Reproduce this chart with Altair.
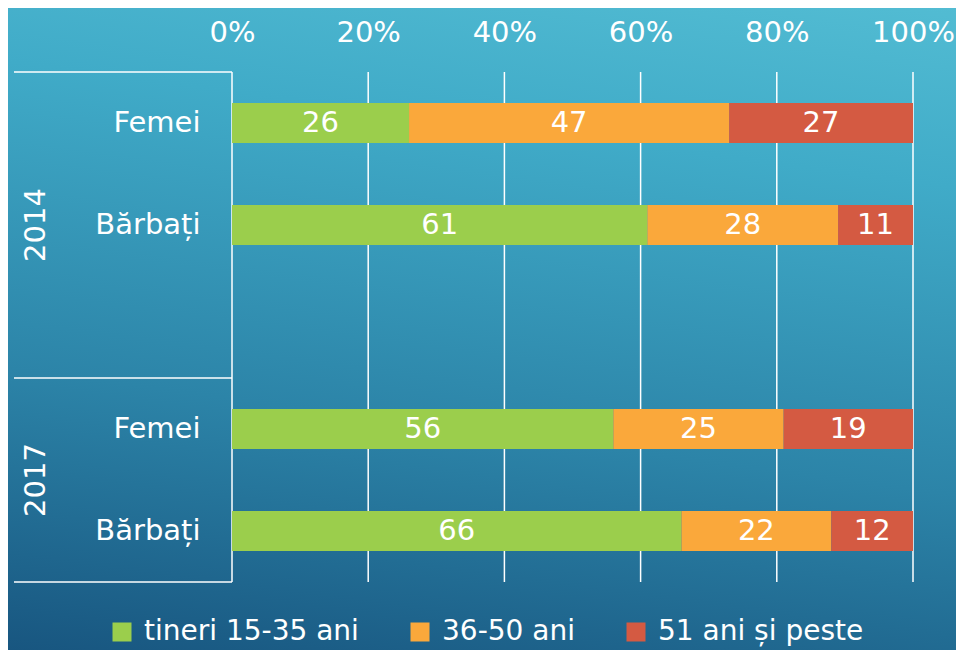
import altair as alt
import pandas as pd

# ---- data ----
years = ["2014", "2014", "2017", "2017"]
sexes = ["Femei", "Bărbați", "Femei", "Bărbați"]
tineri = [26, 61, 56, 66]
adulti = [47, 28, 25, 22]
varstnici = [27, 11, 19, 12]
groups = ["tineri 15-35 ani", "36-50 ani", "51 ani și peste"]
group_colors = ["#9BCE4C", "#FAA83B", "#D45A42"]
tick_values = [0, 20, 40, 60, 80, 100]

FONT = "DejaVu Sans"
W, H = 681, 510
PAD = {"left": 224, "top": 64, "right": 43, "bottom": 68}

row_keys = [f"{y}|{s}" for y, s in zip(years, sexes)]
row_domain = [row_keys[0], row_keys[1], "2014|", row_keys[2], row_keys[3]]

records = []
for i, key in enumerate(row_keys):
    for j, (g, vals) in enumerate(zip(groups, [tineri, adulti, varstnici])):
        records.append({"row": key, "group": g, "value": vals[i], "idx": j})
df = pd.DataFrame(records)

y_scale = alt.Scale(domain=row_domain, paddingInner=0, paddingOuter=0)
x_scale = alt.Scale(domain=[0, 100], nice=False)

x_axis = alt.Axis(orient="top", values=tick_values, labelExpr="datum.value + '%'",
                  grid=False, domain=False, ticks=False, tickSize=0, labelPadding=25,
                  labelFont=FONT, labelFontSize=29, labelColor="white", title=None,
                  zindex=1, labelFlush=False)
y_axis = alt.Axis(labelExpr="split(datum.label, '|')[1]", grid=False, domain=False,
                  ticks=False, tickSize=0, labelPadding=32, labelFont=FONT,
                  labelFontSize=29, labelColor="white", title=None, zindex=1)

bg = alt.Chart(alt.Data(values=[{}])).mark_rect(
    fill=alt.LinearGradient(
        gradient="linear",
        stops=[alt.GradientStop(color="#185680", offset=0),
               alt.GradientStop(color="#2c84a8", offset=0.32),
               alt.GradientStop(color="#40abc8", offset=0.67),
               alt.GradientStop(color="#5dc6d9", offset=1)],
        x1=0, y1=1, x2=0.259, y2=-0.318),
    strokeWidth=0,
).encode(x=alt.value(-PAD["left"]), x2=alt.value(W + PAD["right"]),
         y=alt.value(-PAD["top"]), y2=alt.value(H + PAD["bottom"]))

grid = alt.Chart(pd.DataFrame({"v": tick_values})).mark_rule(
    color="white", strokeWidth=1.5).encode(x=alt.X("v:Q", scale=x_scale, axis=x_axis))

sep_top = alt.Chart(pd.DataFrame({"row": [row_keys[0], row_keys[2]]})).mark_rule(
    color="white", strokeWidth=1.5).encode(
    y=alt.Y("row:N", bandPosition=0, scale=y_scale, axis=y_axis),
    x=alt.value(-218), x2=alt.value(0))
sep_bottom = alt.Chart(pd.DataFrame({"row": [row_keys[3]]})).mark_rule(
    color="white", strokeWidth=1.5).encode(
    y=alt.Y("row:N", bandPosition=1, scale=y_scale, axis=y_axis),
    x=alt.value(-218), x2=alt.value(0))

bars = alt.Chart(df).mark_bar(size=40).encode(
    y=alt.Y("row:N", scale=y_scale, axis=y_axis),
    x=alt.X("value:Q", stack="zero", scale=x_scale, axis=x_axis),
    color=alt.Color("group:N", scale=alt.Scale(domain=groups, range=group_colors),
                    legend=alt.Legend(orient="none", legendX=-124, legendY=546,
                                      direction="horizontal", title=None,
                                      symbolType="square", symbolSize=361,
                                      symbolStrokeWidth=0, symbolOpacity=1,
                                      labelFont=FONT, labelFontSize=28,
                                      labelColor="white", labelOffset=8,
                                      columnPadding=47, labelLimit=400, zindex=1)),
    order=alt.Order("idx:Q"),
)

labels = alt.Chart(df).transform_stack(
    stack="value", groupby=["row"], as_=["x0", "x1"], sort=[alt.SortField("idx")]
).transform_calculate(mid="(datum.x0 + datum.x1) / 2").mark_text(
    font=FONT, fontSize=29, color="white", align="center", baseline="middle"
).encode(
    y=alt.Y("row:N", scale=y_scale, axis=y_axis),
    x=alt.X("mid:Q", scale=x_scale, axis=x_axis),
    text=alt.Text("value:Q"),
)

year_2014 = alt.Chart(pd.DataFrame({"row": [row_keys[1]], "year": [years[0]]})).mark_text(
    font=FONT, fontSize=29, color="white", angle=270, align="center", baseline="middle"
).encode(y=alt.Y("row:N", bandPosition=0.5, scale=y_scale, axis=y_axis),
         x=alt.value(-196), text="year:N")
year_2017 = alt.Chart(pd.DataFrame({"row": [row_keys[3]], "year": [years[2]]})).mark_text(
    font=FONT, fontSize=29, color="white", angle=270, align="center", baseline="middle"
).encode(y=alt.Y("row:N", bandPosition=0, scale=y_scale, axis=y_axis),
         x=alt.value(-196), text="year:N")

chart = alt.layer(bg, grid, sep_top, sep_bottom, bars, labels, year_2014, year_2017).properties(
    width=W, height=H,
    autosize=alt.AutoSizeParams(type="none"),
    padding=PAD,
).configure(background="#2a7ea2").configure_view(stroke=None)

chart.save("out.html", embed_options={"renderer": "svg", "actions": False})
